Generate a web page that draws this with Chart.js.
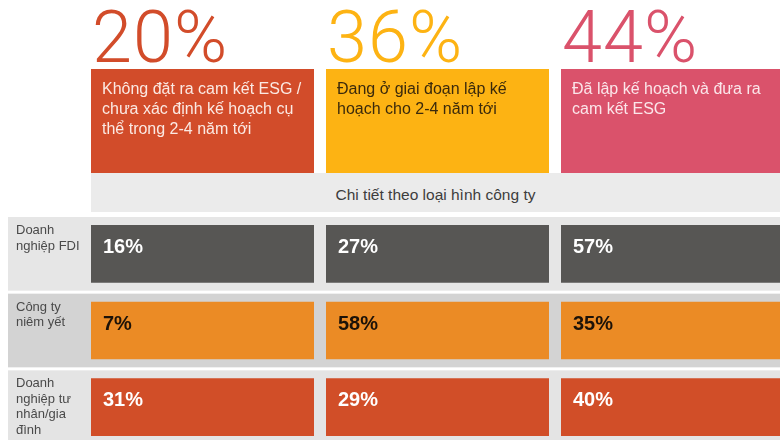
<!DOCTYPE html>
<html>
<head>
<meta charset="utf-8">
<script src="https://cdn.jsdelivr.net/npm/chart.js@4.4.1/dist/chart.umd.min.js"></script>
<style>
html, body { margin: 0; padding: 0; background: #fff; width: 780px; height: 440px; overflow: hidden; }
#wrap { position: relative; width: 800px; height: 440px; }
#topChart { position: absolute; left: 0; top: 0; }
#band {
    position: absolute; left: 91px; top: 173px; width: 689px; height: 39px;
    background: #ebebeb; color: #3d3d3d;
    font: 15.5px "Liberation Sans", Arial, sans-serif;
    line-height: 43px; text-align: center;
}
#rowChart { position: absolute; left: 0; top: 213px; }
</style>
</head>
<body>
<div id="wrap">
    <canvas id="topChart" width="800" height="173"></canvas>
    <div id="band">Chi tiết theo loại hình công ty</div>
    <canvas id="rowChart" width="800" height="233"></canvas>
</div>
<script>
// stages of ESG commitment (columns)
const stages = ['Không đặt ra cam kết ESG', 'Đang lập kế hoạch', 'Đã cam kết ESG'];
const stageText = [
    ['Không đặt ra cam kết ESG /', 'chưa xác định kế hoạch cụ', 'thể trong 2-4 năm tới'],
    ['Đang ở giai đoạn lập kế', 'hoạch cho 2-4 năm tới'],
    ['Đã lập kế hoạch và đưa ra', 'cam kết ESG']
];
const stageTotal = [20, 36, 44];
const stageColors = ['#d24c2a', '#fdb313', '#da526b'];
const stageTextColors = ['#fbe9e3', '#3b2a0c', '#fbe6ea'];

// company types (rows)
const companyTypes = [
    ['Doanh', 'nghiệp FDI'],
    ['Công ty', 'niêm yết'],
    ['Doanh', 'nghiệp tư', 'nhân/gia', 'đình']
];
const fdi = [16, 27, 57];
const listed = [7, 58, 35];
const privateFamily = [31, 29, 40];
const rowColors = ['#575654', '#eb8b25', '#d14e28'];
const rowBands = ['#e6e6e6', '#d3d3d3', '#e4e4e4'];
const rowValueColors = ['#ffffff', '#1c1208', '#ffffff'];

const sans = '"Liberation Sans", Arial, sans-serif';

// ---------- header boxes ----------
const headerText = {
    id: 'headerText',
    afterDatasetsDraw(chart) {
        const ctx = chart.ctx;
        const bars = chart.getDatasetMeta(0).data;
        ctx.save();
        bars.forEach((bar, i) => {
            const left = bar.x - bar.width / 2;
            ctx.fillStyle = stageColors[i];
            ctx.font = '300 72px Roboto, ' + sans;
            ctx.letterSpacing = '1px';
            ctx.textBaseline = 'alphabetic';
            ctx.fillText(stageTotal[i] + '%', left + 1, bar.y - 7);
            ctx.letterSpacing = '0px';
            ctx.fillStyle = stageTextColors[i];
            ctx.font = '16px ' + sans;
            stageText[i].forEach((line, j) => {
                ctx.fillText(line, left + 11, bar.y + 25 + j * 20);
            });
        });
        ctx.restore();
    }
};

new Chart(document.getElementById('topChart'), {
    type: 'bar',
    data: {
        labels: stages,
        datasets: [{
            data: stages.map(() => 1),
            backgroundColor: stageColors,
            categoryPercentage: 1,
            barPercentage: 223 / 235
        }]
    },
    options: {
        responsive: false,
        animation: false,
        layout: { padding: { left: 85, right: 10, top: 69, bottom: 0 } },
        plugins: { legend: { display: false }, tooltip: { enabled: false } },
        scales: {
            x: { display: false },
            y: { display: false, min: 0, max: 1 }
        }
    },
    plugins: [headerText]
});

// ---------- detail rows ----------
const rowValues = [fdi, listed, privateFamily];

const rowDecor = {
    id: 'rowDecor',
    beforeDatasetsDraw(chart) {
        const ctx = chart.ctx;
        const y = chart.scales.y;
        ctx.save();
        rowValues.forEach((v, i) => {
            const top = y.getPixelForValue(i);
            const bottom = y.getPixelForValue(i + 1);
            ctx.fillStyle = rowBands[i];
            ctx.fillRect(8, top + 1, chart.width - 8, bottom - top - 3);
            ctx.fillStyle = '#4a4a4a';
            ctx.font = '13px ' + sans;
            companyTypes[i].forEach((line, j) => {
                ctx.fillText(line, 16, top + 18 + j * 15.5);
            });
        });
        ctx.restore();
    },
    afterDatasetsDraw(chart) {
        const ctx = chart.ctx;
        ctx.save();
        ctx.font = 'bold 20px ' + sans;
        rowValues.forEach((v, i) => {
            const bars = chart.getDatasetMeta(i).data;
            bars.forEach((bar, k) => {
                const left = bar.x - bar.width / 2;
                const top = Math.min(bar.y, bar.base);
                ctx.fillStyle = rowValueColors[i];
                ctx.fillText(v[k] + '%', left + 12, top + 9 + 28);
            });
        });
        ctx.restore();
    }
};

new Chart(document.getElementById('rowChart'), {
    type: 'bar',
    data: {
        labels: stages,
        datasets: rowValues.map((v, i) => ({
            label: companyTypes[i].join(' '),
            // every cell has the same size, the share is written inside it
            data: v.map(() => 1),
            backgroundColor: rowColors[i],
            borderColor: 'rgba(0,0,0,0)',
            borderWidth: { top: 9, bottom: 10, left: 0, right: 0 },
            borderSkipped: false,
            categoryPercentage: 1,
            barPercentage: 223 / 235
        }))
    },
    options: {
        responsive: false,
        animation: false,
        layout: { padding: { left: 85, right: 10, top: 3, bottom: 0 } },
        plugins: { legend: { display: false }, tooltip: { enabled: false } },
        scales: {
            x: { display: false, stacked: true },
            y: { display: false, stacked: true, reverse: true, min: 0, max: 3 }
        }
    },
    plugins: [rowDecor]
});
</script>
</body>
</html>
